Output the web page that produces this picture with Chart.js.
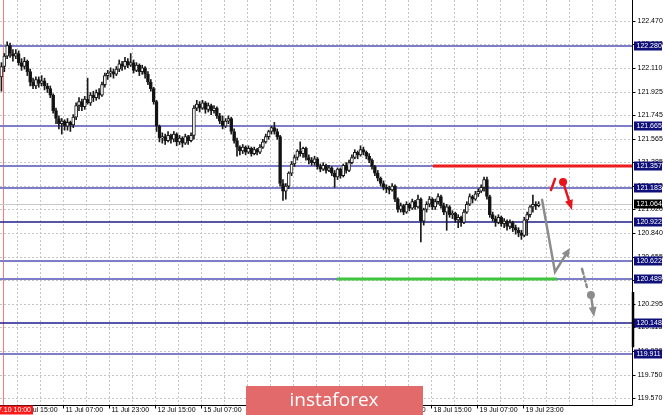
<!DOCTYPE html>
<html><head><meta charset="utf-8">
<script src="https://cdn.jsdelivr.net/npm/chart.js@4/dist/chart.umd.min.js"></script>
<style>html,body{margin:0;padding:0;background:#fff;overflow:hidden}#wrap{width:665px;height:415px;position:relative}</style>
</head><body><div id="wrap"><canvas id="c" width="665" height="415"></canvas></div>
<script>
// ---- Candle data (H1) ----
const opens = [
122.04,122.12,122.20,122.28,122.22,122.20,122.22,122.15,122.12,122.16,
122.08,122.00,121.97,122.02,121.99,122.01,121.97,121.95,121.90,121.78,
121.72,121.68,121.70,121.66,121.69,121.67,121.73,121.82,121.85,121.81,
121.87,121.84,121.90,121.88,121.92,121.90,121.98,122.05,122.07,122.08,
122.06,122.10,122.14,122.12,122.16,122.13,122.15,122.09,122.13,122.08,
122.11,122.06,122.00,121.95,121.85,121.66,121.57,121.58,121.55,121.59,
121.56,121.60,121.54,121.57,121.53,121.58,121.55,121.59,121.80,121.83,
121.80,121.84,121.79,121.82,121.78,121.80,121.74,121.70,121.66,121.70,
121.72,121.62,121.55,121.50,121.47,121.50,121.46,121.49,121.45,121.48,
121.46,121.50,121.54,121.58,121.62,121.65,121.62,121.58,121.22,121.16,
121.20,121.30,121.37,121.42,121.47,121.45,121.49,121.42,121.40,121.38,
121.41,121.35,121.33,121.36,121.32,121.34,121.30,121.27,121.33,121.28,
121.36,121.32,121.38,121.42,121.46,121.44,121.48,121.46,121.43,121.40,
121.35,121.30,121.26,121.22,121.19,121.18,121.17,121.20,121.10,121.02,
121.05,121.00,121.06,121.03,121.08,121.04,121.10,120.93,121.02,121.06,
121.10,121.04,121.08,121.12,121.05,121.00,121.04,120.98,120.99,120.94,
120.96,120.92,121.00,121.06,121.12,121.10,121.14,121.16,121.19,121.25,
121.12,120.98,120.95,120.92,120.96,120.91,120.93,120.89,120.92,120.88,
120.86,120.84,120.82,120.94,120.98,121.04,121.06,121.05];
const highs = [
122.15,122.22,122.31,122.30,122.25,122.25,122.24,122.18,122.19,122.17,
122.10,122.03,122.04,122.04,122.05,122.03,121.99,121.97,121.91,121.80,
121.74,121.72,121.71,121.72,121.70,121.75,121.84,121.88,121.87,121.89,
122.03,121.92,121.93,121.94,121.95,122.00,122.07,122.09,122.11,122.10,
122.12,122.17,122.16,122.19,122.18,122.22,122.17,122.15,122.14,122.13,
122.12,122.08,122.02,121.96,121.86,121.67,121.61,121.60,121.62,121.60,
121.62,121.61,121.59,121.58,121.60,121.59,121.61,121.82,121.86,121.85,
121.86,121.85,121.84,121.83,121.82,121.81,121.76,121.74,121.72,121.74,
121.73,121.64,121.57,121.51,121.52,121.51,121.51,121.50,121.50,121.49,
121.52,121.56,121.60,121.63,121.66,121.69,121.64,121.59,121.25,121.22,
121.31,121.39,121.44,121.48,121.54,121.50,121.50,121.44,121.42,121.43,
121.42,121.37,121.38,121.37,121.36,121.35,121.32,121.34,121.34,121.37,
121.38,121.40,121.44,121.48,121.47,121.51,121.50,121.47,121.45,121.41,
121.36,121.32,121.27,121.24,121.21,121.20,121.22,121.21,121.11,121.07,
121.06,121.08,121.07,121.10,121.09,121.13,121.11,121.03,121.08,121.12,
121.11,121.10,121.14,121.13,121.07,121.06,121.05,121.01,121.00,120.98,
120.97,121.02,121.08,121.14,121.13,121.16,121.18,121.21,121.27,121.27,
121.13,121.00,120.97,120.98,120.97,120.95,120.94,120.94,120.93,120.90,
120.88,120.86,120.96,121.00,121.05,121.13,121.08,121.08];
const lows = [
121.93,122.08,122.18,122.19,122.16,122.18,122.13,122.09,122.10,122.05,
121.97,121.95,121.95,121.96,121.97,121.94,121.92,121.88,121.76,121.68,
121.64,121.60,121.63,121.63,121.62,121.65,121.71,121.78,121.78,121.79,
121.83,121.82,121.85,121.86,121.87,121.89,121.96,122.02,122.04,122.03,
122.05,122.08,122.09,122.10,122.11,122.12,122.07,122.08,122.05,122.06,
122.03,121.98,121.93,121.83,121.62,121.54,121.53,121.52,121.54,121.53,
121.54,121.51,121.52,121.50,121.52,121.52,121.54,121.56,121.78,121.77,
121.79,121.76,121.77,121.75,121.76,121.72,121.68,121.64,121.65,121.68,
121.60,121.53,121.43,121.44,121.45,121.44,121.45,121.43,121.44,121.44,
121.45,121.49,121.53,121.56,121.60,121.60,121.56,121.20,121.09,121.10,
121.18,121.28,121.35,121.40,121.43,121.42,121.40,121.37,121.36,121.36,
121.33,121.31,121.32,121.30,121.31,121.28,121.19,121.25,121.26,121.27,
121.30,121.31,121.37,121.41,121.41,121.43,121.44,121.41,121.38,121.33,
121.28,121.24,121.20,121.17,121.15,121.14,121.16,121.08,121.00,121.00,
120.98,120.99,121.01,121.02,121.02,121.03,120.77,120.90,121.00,121.04,
121.02,121.02,121.06,121.03,120.98,120.86,120.96,120.95,120.92,120.88,
120.89,120.91,120.99,121.05,121.07,121.09,121.12,121.15,121.16,121.10,
120.96,120.93,120.89,120.91,120.89,120.88,120.86,120.87,120.85,120.83,
120.81,120.79,120.81,120.82,120.96,121.00,121.02,121.04];
const closes = [
122.12,122.20,122.28,122.22,122.20,122.22,122.15,122.12,122.16,122.08,
122.00,121.97,122.02,121.99,122.01,121.97,121.95,121.90,121.78,121.72,
121.68,121.70,121.66,121.69,121.67,121.73,121.82,121.85,121.81,121.87,
121.84,121.90,121.88,121.92,121.90,121.98,122.05,122.07,122.08,122.06,
122.10,122.14,122.12,122.16,122.13,122.15,122.09,122.13,122.08,122.11,
122.06,122.00,121.95,121.85,121.66,121.57,121.58,121.55,121.59,121.56,
121.60,121.54,121.57,121.53,121.58,121.55,121.59,121.80,121.83,121.80,
121.84,121.79,121.82,121.78,121.80,121.74,121.70,121.66,121.70,121.72,
121.62,121.55,121.50,121.47,121.50,121.46,121.49,121.45,121.48,121.46,
121.50,121.54,121.58,121.62,121.65,121.62,121.58,121.22,121.16,121.20,
121.30,121.37,121.42,121.47,121.45,121.49,121.42,121.40,121.38,121.41,
121.35,121.33,121.36,121.32,121.34,121.30,121.27,121.33,121.28,121.36,
121.32,121.38,121.42,121.46,121.44,121.48,121.46,121.43,121.40,121.35,
121.30,121.26,121.22,121.19,121.18,121.17,121.20,121.10,121.02,121.05,
121.00,121.06,121.03,121.08,121.04,121.10,120.93,121.02,121.06,121.10,
121.04,121.08,121.12,121.05,121.00,121.04,120.98,120.99,120.94,120.96,
120.92,121.00,121.06,121.12,121.10,121.14,121.16,121.19,121.25,121.12,
120.98,120.95,120.92,120.96,120.91,120.93,120.89,120.92,120.88,120.86,
120.84,120.82,120.94,120.98,121.04,121.06,121.05,121.064];

const slotCount = 220; // hourly slots on the time axis (incl. empty future space)
const timeLabels = ['10 Jul 15:00','11 Jul 07:00','11 Jul 23:00','12 Jul 15:00','15 Jul 07:00',
  '15 Jul 23:00','16 Jul 15:00','17 Jul 07:00','17 Jul 23:00','18 Jul 15:00','19 Jul 07:00','19 Jul 23:00'];
const cursorLabel = '2019.07.10 10:00';
const priceTicks = [122.470,122.290,122.110,121.925,121.745,121.565,121.385,121.200,121.020,
  120.840,120.655,120.475,120.295,120.115,119.930,119.750,119.570];
const lightLevels = [122.280,121.665,121.357,121.183,120.622,120.489,119.911];
const darkLevels = [120.922,120.148];
const currentPrice = 121.064;
const redLevel = [121.357, 150.2, 219.5];   // price, from slot, to slot
const greenLevel = [120.489, 116.8, 193.4];
const cursorSlot = 0.5;
// forecast sketch (slot, price)
const redSlash = [[191.3,121.170],[192.7,121.255]];
const redDot = [195.5,121.232];
const redArrowTip = [198.6,121.017];
const grayPath = [[188.2,121.094],[192.7,120.540],[197.9,120.724]];
const grayDash = [[202.1,120.563],[203.8,120.424]];
const grayDot = [205.2,120.363];
const grayArrowTip = [206.3,120.193];

const cats = Array.from({length: slotCount}, (_, i) => String(i));
const bodyData = opens.map((o, i) => [o, closes[i]]);
const wickData = lows.map((l, i) => [l, highs[i]]);
const isBull = opens.map((o, i) => closes[i] >= o);

const FONT = '7px "Liberation Sans", Arial, sans-serif';

function seg(ctx, x1, y1, x2, y2) { ctx.beginPath(); ctx.moveTo(x1, y1); ctx.lineTo(x2, y2); ctx.stroke(); }
function head(ctx, x1, y1, x2, y2, len, wid, color) {
  const a = Math.atan2(y2 - y1, x2 - x1);
  ctx.fillStyle = color;
  ctx.beginPath();
  ctx.moveTo(x2, y2);
  ctx.lineTo(x2 - len * Math.cos(a) + wid / 2 * Math.sin(a), y2 - len * Math.sin(a) - wid / 2 * Math.cos(a));
  ctx.lineTo(x2 - len * Math.cos(a) - wid / 2 * Math.sin(a), y2 - len * Math.sin(a) + wid / 2 * Math.cos(a));
  ctx.closePath(); ctx.fill();
}

const deco = {
  id: 'deco',
  beforeDatasetsDraw(chart) {
    const {ctx, chartArea: a, scales: {x, y}} = chart;
    const sw = (a.right - a.left) / slotCount;
    ctx.save();
    ctx.lineWidth = 1;
    ctx.strokeStyle = '#c6c6c6';
    ctx.setLineDash([2, 2]);
    for (const v of priceTicks) { const py = Math.round(y.getPixelForValue(v)) + 0.5; seg(ctx, a.left, py, a.right, py); }
    for (let k = 6; k < slotCount; k += 8) { const px = Math.round(x.getPixelForValue(k) - sw / 2) + 0.5; seg(ctx, px, a.top, px, a.bottom); }
    ctx.setLineDash([]);
    // cursor / separator line
    ctx.strokeStyle = '#f47c7c';
    const cx = Math.round(x.getPixelForValue(cursorSlot)) + 0.5;
    seg(ctx, cx, a.top, cx, a.bottom);
    // current price line
    ctx.strokeStyle = '#c8c8c8';
    let py = Math.round(y.getPixelForValue(currentPrice)) + 0.5;
    seg(ctx, a.left, py, a.right, py);
    // levels
    ctx.strokeStyle = '#7e7ec8'; ctx.lineWidth = 2;
    for (const v of lightLevels) { py = Math.round(y.getPixelForValue(v)); seg(ctx, a.left, py, a.right, py); }
    ctx.strokeStyle = '#1c1c8e'; ctx.lineWidth = 1.5;
    for (const v of darkLevels) { py = Math.round(y.getPixelForValue(v)); seg(ctx, a.left, py, a.right, py); }
    ctx.lineWidth = 3;
    ctx.strokeStyle = '#ee1c1c';
    py = Math.round(y.getPixelForValue(redLevel[0]));
    seg(ctx, x.getPixelForValue(redLevel[1]), py, Math.min(a.right, x.getPixelForValue(redLevel[2])), py);
    ctx.strokeStyle = '#3ec43e';
    py = Math.round(y.getPixelForValue(greenLevel[0]));
    seg(ctx, x.getPixelForValue(greenLevel[1]), py, x.getPixelForValue(greenLevel[2]), py);
    ctx.restore();
  },
  afterDraw(chart) {
    const {ctx, chartArea: a, scales: {x, y}} = chart;
    const sw = (a.right - a.left) / slotCount;
    const P = p => [x.getPixelForValue(p[0]), y.getPixelForValue(p[1])];
    ctx.save();
    ctx.lineCap = 'round';
    // red sketch
    const red = '#e8141c';
    ctx.strokeStyle = red; ctx.lineWidth = 2.5;
    let s1 = P(redSlash[0]), s2 = P(redSlash[1]);
    seg(ctx, s1[0], s1[1], s2[0], s2[1]);
    const rd = P(redDot), rt = P(redArrowTip);
    ctx.fillStyle = red; ctx.beginPath(); ctx.arc(rd[0], rd[1], 4, 0, Math.PI * 2); ctx.fill();
    seg(ctx, rd[0], rd[1], rt[0] - (rt[0] - rd[0]) * 0.25, rt[1] - (rt[1] - rd[1]) * 0.25);
    head(ctx, rd[0], rd[1], rt[0], rt[1], 10, 8, red);
    // gray sketch
    const gray = '#8c8c8c';
    ctx.strokeStyle = gray; ctx.lineWidth = 2.5;
    const g = grayPath.map(P);
    ctx.beginPath(); ctx.moveTo(g[0][0], g[0][1]); ctx.lineTo(g[1][0], g[1][1]);
    ctx.lineTo(g[2][0] - (g[2][0] - g[1][0]) * 0.3, g[2][1] - (g[2][1] - g[1][1]) * 0.3); ctx.stroke();
    head(ctx, g[1][0], g[1][1], g[2][0], g[2][1], 9, 8, gray);
    ctx.setLineDash([5, 3]);
    s1 = P(grayDash[0]); s2 = P(grayDash[1]);
    seg(ctx, s1[0], s1[1], s2[0], s2[1]);
    ctx.setLineDash([]);
    const gd = P(grayDot), gt = P(grayArrowTip);
    ctx.fillStyle = gray; ctx.beginPath(); ctx.arc(gd[0], gd[1], 4, 0, Math.PI * 2); ctx.fill();
    seg(ctx, gd[0], gd[1], gt[0] - (gt[0] - gd[0]) * 0.35, gt[1] - (gt[1] - gd[1]) * 0.35);
    head(ctx, gd[0], gd[1], gt[0], gt[1], 10, 8, gray);
    ctx.lineCap = 'butt';

    // axes
    ctx.strokeStyle = '#000'; ctx.lineWidth = 1;
    const ax = Math.round(a.right) + 0.5, ay = Math.round(a.bottom) + 0.5;
    seg(ctx, ax, a.top, ax, ay);
    seg(ctx, a.left, ay, ax, ay);
    // price labels
    ctx.font = FONT; ctx.textBaseline = 'middle'; ctx.textAlign = 'left'; ctx.fillStyle = '#000';
    for (const v of priceTicks) {
      const py = Math.round(y.getPixelForValue(v)) + 0.5;
      seg(ctx, ax, py, ax + 3, py);
      ctx.fillText(v.toFixed(3), ax + 5, py);
    }
    const box = (v, bg) => {
      const py = Math.round(y.getPixelForValue(v));
      ctx.fillStyle = bg; ctx.fillRect(ax + 1.5, py - 4.5, 28, 9);
      ctx.fillStyle = '#fff'; ctx.fillText(v.toFixed(3), ax + 4, py + 0.5);
    };
    for (const v of lightLevels.concat(darkLevels)) box(v, '#10107a');
    box(currentPrice, '#000');
    ctx.lineWidth = 2.5;
    seg(ctx, ax + 0.5, y.getPixelForValue(120.385), ax + 0.5, y.getPixelForValue(119.96));
    ctx.lineWidth = 1;
    // time labels
    ctx.fillStyle = '#000'; ctx.textBaseline = 'middle';
    timeLabels.forEach((t, j) => {
      const k = 6 + 16 * j;
      const px = Math.round(x.getPixelForValue(k) - sw / 2) + 0.5;
      seg(ctx, px, ay, px, ay + 3);
      ctx.fillText(t, px + 2, ay + 5);
    });
    // cursor time box
    ctx.fillStyle = '#ff1a1a'; ctx.fillRect(0, ay, 33, 9);
    ctx.fillStyle = '#fff'; ctx.textAlign = 'right'; ctx.fillText(cursorLabel, 31, ay + 5);
    // watermark banner
    ctx.fillStyle = '#e36a6a'; ctx.fillRect(246, 386, 177, 29);
    ctx.fillStyle = '#fff'; ctx.textAlign = 'center';
    ctx.font = '19px "Open Sans", "Liberation Sans", sans-serif';
    ctx.fillText('instaforex', 334, 401);
    ctx.restore();
  }
};

new Chart(document.getElementById('c').getContext('2d'), {
  type: 'bar',
  data: {
    labels: cats,
    datasets: [
      { data: bodyData, grouped: false, order: 0, barThickness: 3, borderWidth: 1, borderColor: '#1a1a1a',
        borderSkipped: false, backgroundColor: isBull.map(b => b ? '#ffffff' : '#111111') },
      { data: wickData, grouped: false, order: 1, barThickness: 1, borderWidth: 0, backgroundColor: '#1a1a1a' }
    ]
  },
  options: {
    responsive: false, animation: false, devicePixelRatio: 1, events: [],
    layout: { padding: { left: 0, top: 0, right: 33, bottom: 10 } },
    plugins: { legend: { display: false }, tooltip: { enabled: false } },
    scales: {
      x: { display: false, offset: true },
      y: { display: false, min: 119.516, max: 122.6315 }
    }
  },
  plugins: [deco]
});
</script>
</body></html>
